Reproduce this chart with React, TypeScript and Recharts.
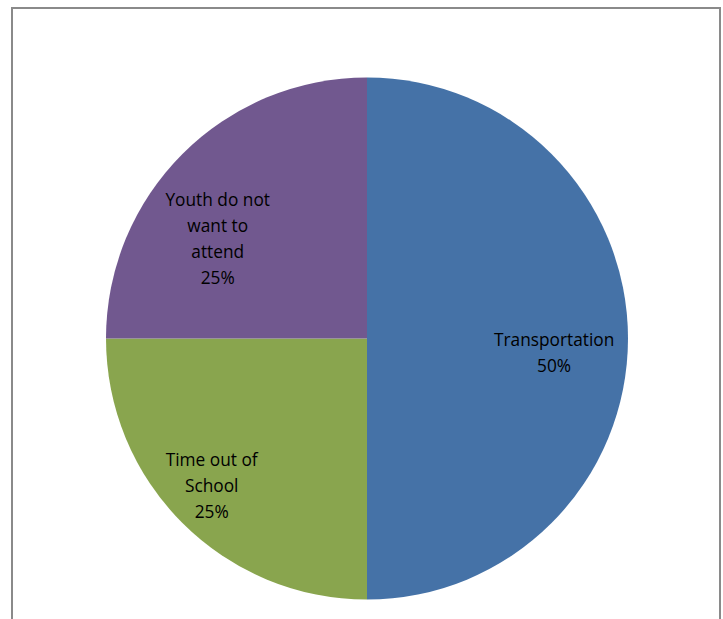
import React from "react";
import { PieChart, Pie, Cell } from "recharts";

const categories = ["Transportation", "Time out of School", "Youth do not want to attend"];
const values = [50, 25, 25];
const labelLines = [["Transportation", "50%"], ["Time out of", "School", "25%"], ["Youth do not", "want to", "attend", "25%"]];
const colors = ["#4572A7", "#89A54E", "#71588F"];

const data = categories.map((name, i) => ({ name, value: values[i] }));

// label anchor (relative to pie center, as fraction of radius) per slice
const labelOffsets = [
  { dx: 0.717, dy: 0.05 },
  { dx: -0.595, dy: 0.56 },
  { dx: -0.572, dy: -0.385 },
];

const renderLabel = (props: any) => {
  const { cx, cy, outerRadius, index } = props;
  const off = labelOffsets[index];
  const lines = labelLines[index];
  const x = cx + off.dx * outerRadius;
  const yc = cy + off.dy * outerRadius;
  const lh = 26;
  const y0 = yc - ((lines.length - 1) * lh) / 2;
  return (
    <text
      x={x}
      y={y0}
      textAnchor="middle"
      dominantBaseline="central"
      fill="#000"
      fontFamily="'Open Sans', sans-serif"
      fontSize={17.3}
    >
      {lines.map((l, i) => (
        <tspan key={i} x={x} y={y0 + i * lh} dominantBaseline="central">
          {l}
        </tspan>
      ))}
    </text>
  );
};

export default function App() {
  return (
    <div style={{ position: "absolute", left: 0, top: 0, width: 723, height: 619, overflow: "hidden", background: "#fff" }}>
      <div
        style={{
          position: "absolute",
          left: 11,
          top: 7,
          width: 710,
          height: 700,
          border: "2px solid #8a8a8a",
          boxSizing: "border-box",
        }}
      />
      <div style={{ position: "absolute", left: 0, top: 0 }}>
        <PieChart width={723} height={619} margin={{ top: 0, right: 0, bottom: 0, left: 0 }}>
          <Pie
            data={data}
            dataKey="value"
            nameKey="name"
            cx={367}
            cy={338.5}
            outerRadius={261}
            startAngle={90}
            endAngle={-270}
            stroke="none"
            label={renderLabel}
            labelLine={false}
            isAnimationActive={false}
          >
            {data.map((d, i) => (
              <Cell key={d.name} fill={colors[i]} />
            ))}
          </Pie>
        </PieChart>
      </div>
    </div>
  );
}
